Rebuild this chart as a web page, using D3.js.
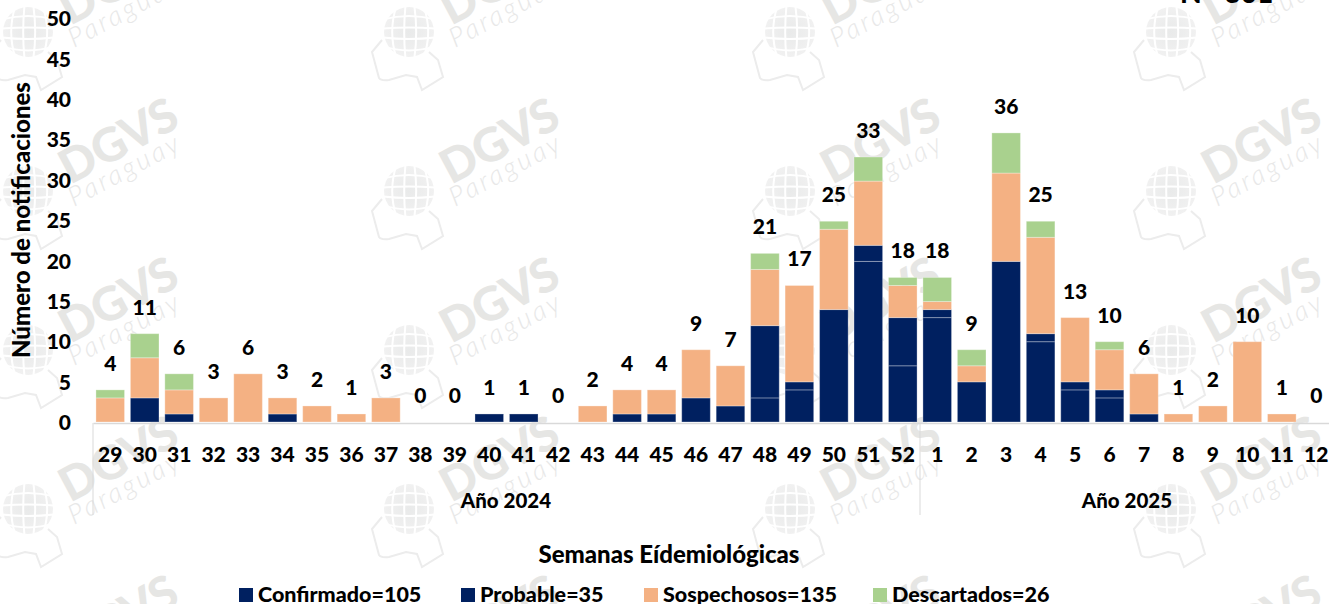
<!DOCTYPE html>
<html><head><meta charset="utf-8">
<style>html,body{margin:0;padding:0;background:#fff;overflow:hidden}svg{display:block}text{font-family:Lato,"Open Sans",sans-serif;font-weight:900;fill:#000}</style>
<script src="https://cdn.jsdelivr.net/npm/d3@7/dist/d3.min.js"></script>
</head><body>
<script>
const weeks2024 = [29,30,31,32,33,34,35,36,37,38,39,40,41,42,43,44,45,46,47,48,49,50,51,52];
const weeks2025 = [1,2,3,4,5,6,7,8,9,10,11,12];
// Confirmado and Probable share one navy; only the thin separators in the picture tell them apart.
// Bars without a separator are drawn as Confirmado, so the legend totals are kept as read text.
const confirmado = [0,3,1,0,0,1,0,0,0,0,0,1,1,0,0,1,1,3,2,3,4,14,20,7, 13,5,20,10,4,3,1,0,0,0,0,0];
const probable   = [0,0,0,0,0,0,0,0,0,0,0,0,0,0,0,0,0,0,0,9,1,0,2,6, 1,0,0,1,1,1,0,0,0,0,0,0];
const sospechosos= [3,5,3,3,6,2,2,1,3,0,0,0,0,0,2,3,3,6,5,7,12,10,8,4, 1,2,11,12,8,5,5,1,2,10,1,0];
const descartados= [1,3,2,0,0,0,0,0,0,0,0,0,0,0,0,0,0,0,0,2,0,1,3,1, 3,2,5,2,0,1,0,0,0,0,0,0];
const seriesKeys = ["Confirmado","Probable","Sospechosos","Descartados"];
const seriesColors = ["#002060","#002060","#F4B183","#A9D18E"];
const legendLabels = ["Confirmado=105","Probable=35","Sospechosos=135","Descartados=26"];
const yearLabels = ["Año 2024","Año 2025"];
const yTicks = [0,5,10,15,20,25,30,35,40,45,50];

const W=1329,H=604;
const svg=d3.select("body").append("svg").attr("width",W).attr("height",H);

// watermark
const defs=svg.append("defs");
const grad=defs.append("radialGradient").attr("id","gl");
grad.append("stop").attr("offset","0%").attr("stop-color","#e9eaea");
grad.append("stop").attr("offset","100%").attr("stop-color","#f1f1f1");
const wm=svg.append("g").attr("class","watermark");
const outline="M-27,8 L-37,20 L-30,46 Q-28,49 -20,48 L-3,43 L8,45 L13,58 L34,45 L29,28 L20,20";
[0,1,2,3,4].forEach(r=>[0,1,2,3].forEach(c=>{
  const g=wm.append("g").attr("transform",`translate(${28+c*381},${32+r*159})`);
  g.append("circle").attr("r",25).attr("fill","url(#gl)");
  [-14,-4,6,16].forEach(d=>{
    g.append("path").attr("d",`M${d*0.9},-26 Q${d*1.5},0 ${d*0.9},26`).attr("fill","none").attr("stroke","#fff").attr("stroke-width",2);
    g.append("path").attr("d",`M-26,${d*0.9} Q0,${d*1.4} 26,${d*0.9}`).attr("fill","none").attr("stroke","#fff").attr("stroke-width",2);
  });
  g.append("path").attr("d",outline).attr("fill","none").attr("stroke","#ececec").attr("stroke-width",2);
  g.append("text").attr("transform","translate(42,-6) rotate(-28)").attr("font-size",47).style("fill","#e6e6e4").text("DGVS");
  g.append("text").attr("transform","translate(46,16) rotate(-28)").attr("font-size",27).attr("letter-spacing",3).style("font-weight",300).style("font-style","italic").style("fill","#e8e8e8").text("Paraguay");
}));

const x0=93, bandW=(920-93)/24, yBase=422, y50=20.5;
const cats=[...weeks2024.map(w=>"a"+w),...weeks2025.map(w=>"b"+w)];
const x=d3.scaleBand().domain(cats).range([x0,x0+bandW*36]).paddingInner(0.17).paddingOuter(0.085);
const y=d3.scaleLinear().domain([0,50]).range([yBase,y50]);
const yLabel=d3.scaleLinear().domain([0,50]).range([423,19]);

const rows=cats.map((c,i)=>({cat:c,Confirmado:confirmado[i],Probable:probable[i],Sospechosos:sospechosos[i],Descartados:descartados[i]}));
const stack=d3.stack().keys(seriesKeys)(rows);

svg.append("g").selectAll("g").data(stack).join("g").attr("fill",(d,i)=>seriesColors[i])
 .selectAll("rect").data(d=>d.filter(s=>s[1]>s[0])).join("rect")
 .attr("x",d=>x(d.data.cat)).attr("width",x.bandwidth())
 .attr("y",d=>y(d[1])).attr("height",d=>y(d[0])-y(d[1]))
 .attr("stroke","rgba(255,255,255,0.3)").attr("stroke-width",1);

// totals
svg.append("g").selectAll("text").data(rows).join("text")
 .attr("x",d=>x(d.cat)+x.bandwidth()/2)
 .attr("y",d=>y(d.Confirmado+d.Probable+d.Sospechosos+d.Descartados)-19)
 .attr("text-anchor","middle").attr("font-size",21)
 .text(d=>d.Confirmado+d.Probable+d.Sospechosos+d.Descartados);

// y axis
const ya=svg.append("g").attr("transform","translate(71,0)").call(d3.axisLeft(yLabel).tickValues(yTicks).tickSize(0).tickPadding(0));
ya.select(".domain").remove();
ya.selectAll("text").attr("font-size",21).style("font-family","Lato").style("font-weight",900);

// x axis
const labels=[...weeks2024,...weeks2025];
const xa=svg.append("g").attr("transform",`translate(0,${yBase+1})`).call(d3.axisBottom(x).tickSize(0).tickPadding(24).tickFormat((d,i)=>labels[i]));
xa.select(".domain").attr("stroke","#d9d9d9").attr("stroke-width",1.5);
xa.selectAll("text").attr("font-size",21).style("font-family","Lato").style("font-weight",900);

// year separators
[x0,920].forEach(v=>svg.append("line").attr("x1",v).attr("x2",v).attr("y1",yBase+1).attr("y2",515).attr("stroke","#d9d9d9").attr("stroke-width",1));
svg.selectAll(".yr").data(yearLabels).join("text").attr("class","yr")
 .attr("x",(d,i)=>i?1127:506).attr("y",508).attr("text-anchor","middle").attr("font-size",20.5).text(d=>d);

svg.append("text").attr("transform","translate(30,220) rotate(-90)").attr("text-anchor","middle").attr("font-size",24).text("Número de notificaciones");
svg.append("text").attr("x",669).attr("y",563).attr("text-anchor","middle").attr("font-size",24).text("Semanas Eídemiológicas");
svg.append("text").attr("x",1180).attr("y",3).attr("font-size",28).text("N= 301");

// legend
const legX=[239,461,644,873];
const lg=svg.append("g").selectAll("g").data(legendLabels).join("g").attr("transform",(d,i)=>`translate(${legX[i]},588)`);
lg.append("rect").attr("width",14).attr("height",14).attr("fill",(d,i)=>seriesColors[i]);
lg.append("text").attr("x",19).attr("y",14).attr("font-size",21.5).text(d=>d);
</script>
</body></html>
